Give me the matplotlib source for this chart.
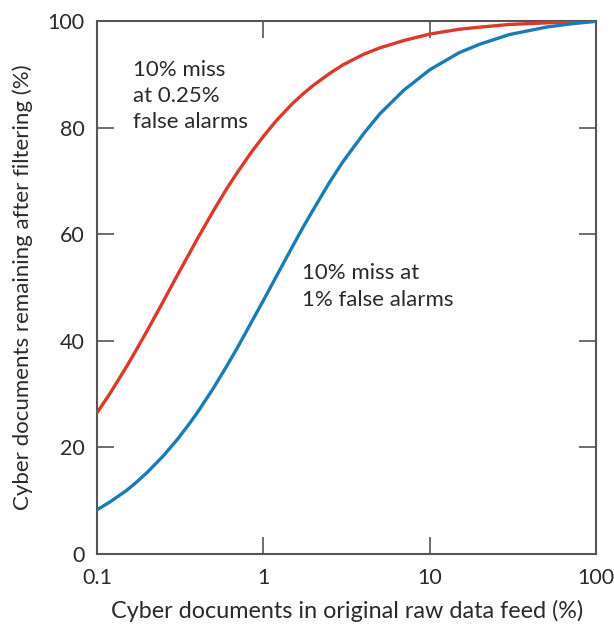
import matplotlib

matplotlib.use("Agg")
import matplotlib.pyplot as plt
from matplotlib.ticker import FixedLocator, NullLocator

# raw data feed share (%) and share remaining after filtering (%)
feed_pct = [0.1, 0.12, 0.15, 0.17, 0.2, 0.25, 0.3, 0.35, 0.4, 0.5, 0.6, 0.7, 0.85, 1,
            1.2, 1.5, 1.75, 2, 2.5, 3, 4, 5, 7, 10, 15, 20, 30, 50, 70, 100]
remain_low_fa = [26.5, 30.2, 35.1, 38.0, 41.9, 47.4, 52.0, 55.8, 59.1, 64.4, 68.5, 71.7,
                 75.5, 78.4, 81.4, 84.6, 86.5, 88.0, 90.2, 91.8, 93.8, 95.0, 96.4, 97.6,
                 98.5, 98.9, 99.4, 99.7, 99.9, 100]
remain_high_fa = [8.3, 9.8, 11.9, 13.3, 15.3, 18.4, 21.3, 24.0, 26.5, 31.1, 35.2, 38.8,
                  43.6, 47.6, 52.2, 57.8, 61.6, 64.7, 69.8, 73.6, 78.9, 82.6, 87.1, 90.9,
                  94.1, 95.7, 97.5, 98.9, 99.5, 100]

x_ticks = [0.1, 1, 10, 100]
x_tick_labels = ["0.1", "1", "10", "100"]
y_ticks = [0, 20, 40, 60, 80, 100]

RED = "#d93a2b"
BLUE = "#1b7bb6"
SPINE = "#555555"
TEXT = "#2a2a2a"

plt.rcParams["font.family"] = ["Lato", "DejaVu Sans"]

fig = plt.figure(figsize=(6.14, 6.26), dpi=100)
ax = fig.add_axes([0.158, 0.115, 0.813, 0.851])

ax.plot(feed_pct, remain_low_fa, color=RED, lw=2.4, zorder=3)
ax.plot(feed_pct, remain_high_fa, color=BLUE, lw=2.4, zorder=3)

ax.set_xscale("log")
ax.set_xlim(0.1, 100)
ax.set_ylim(0, 100)
ax.xaxis.set_major_locator(FixedLocator(x_ticks))
ax.xaxis.set_minor_locator(NullLocator())
ax.set_xticklabels(x_tick_labels)
ax.set_yticks(y_ticks)

for side in ax.spines.values():
    side.set_color(SPINE)
    side.set_linewidth(1.5)

ax.tick_params(axis="x", which="major", pad=10)
ax.tick_params(axis="y", which="major", pad=9)
ax.tick_params(axis="both", which="major", direction="in", length=12, width=1.2,
               color=SPINE, top=True, right=True, labelsize=15.5, labelcolor=TEXT)

ax.set_xlabel("Cyber documents in original raw data feed (%)", fontsize=16.8,
              color=TEXT, labelpad=9)
ax.set_ylabel("Cyber documents remaining after filtering (%)", fontsize=16,
              color=TEXT, labelpad=10)

ax.text(0.1645, 92.8, "10% miss\nat 0.25%\nfalse alarms", fontsize=16, color=TEXT,
        va="top", ha="left", linespacing=1.4)
ax.text(1.70, 54.6, "10% miss at\n1% false alarms", fontsize=16, color=TEXT,
        va="top", ha="left", linespacing=1.4)

fig.savefig("out.png", dpi=100)
